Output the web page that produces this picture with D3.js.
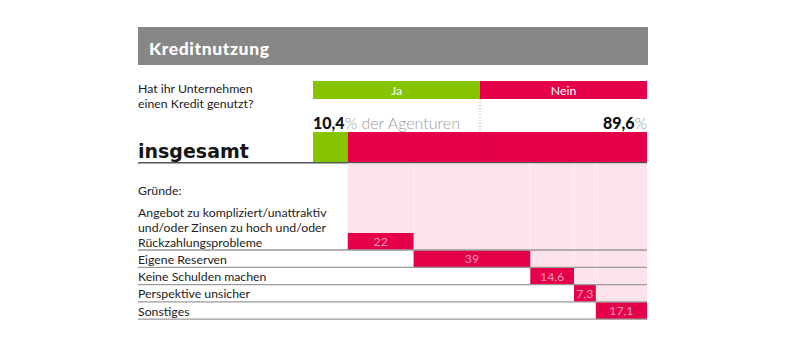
<!DOCTYPE html>
<html><head><meta charset="utf-8">
<script src="https://cdn.jsdelivr.net/npm/d3@7"></script>
<style>body{margin:0;background:#fff}svg{display:block}text{font-family:Lato,"Open Sans",sans-serif}</style>
</head><body>
<script>
const title = "Kreditnutzung";
const question = ["Hat ihr Unternehmen", "einen Kredit genutzt?"];
const answerLabels = ["Ja", "Nein"];
const answerValues = [10.4, 89.6];
const answerValueLabels = ["10,4", "89,6"];
const reasonLabels = [
  ["Angebot zu kompliziert/unattraktiv", "und/oder Zinsen zu hoch und/oder", "Rückzahlungsprobleme"],
  ["Eigene Reserven"],
  ["Keine Schulden machen"],
  ["Perspektive unsicher"],
  ["Sonstiges"]
];
const reasonValues = [22, 39, 14.6, 7.3, 17.1];
const reasonValueLabels = ["22", "39", "14,6", "7,3", "17,1"];

const W = 789, H = 355;
const RED = "#e5004a", GREEN = "#86c400", PINK = "#fce4ea", GREY = "#878787";
const FS = 12.3;
const svg = d3.select("body").append("svg").attr("width", W).attr("height", H);

const L = 138, R = 647;
const x = d3.scaleLinear().domain([0, 100]).range([313, R]);

// title bar
svg.append("rect").attr("x", L).attr("y", 27).attr("width", R - L + 1).attr("height", 38).attr("fill", GREY);
svg.append("text").attr("x", 149).attr("y", 55).attr("fill", "#fff").attr("font-size", 17.5)
  .attr("font-weight", 900).attr("letter-spacing", 0.6).text(title);

// question
svg.selectAll("text.q").data(question).join("text").attr("class", "q")
  .attr("x", L).attr("y", (d, i) => 93 + i * 15).attr("font-size", FS).attr("fill", "#222").text(d => d);

// cumulative answers
const cumA = d3.cumsum(answerValues);
const startsA = Array.from(cumA, (c, i) => c - answerValues[i]);
const colA = [GREEN, RED];

// Ja/Nein legend bar (50/50)
const legend = answerLabels.map((l, i) => ({l, s: i * 50, e: (i + 1) * 50, c: colA[i]}));
svg.selectAll("rect.lg").data(legend).join("rect").attr("class", "lg")
  .attr("x", d => x(d.s)).attr("y", 81).attr("width", d => x(d.e) - x(d.s)).attr("height", 18).attr("fill", d => d.c);
svg.selectAll("text.lg").data(legend).join("text").attr("class", "lg")
  .attr("x", d => (x(d.s) + x(d.e)) / 2).attr("y", 94.5).attr("text-anchor", "middle")
  .attr("fill", "#fff").attr("font-size", FS).text(d => d.l);

// dotted midline
svg.append("line").attr("x1", x(50)).attr("x2", x(50)).attr("y1", 99).attr("y2", 162)
  .attr("stroke", "#999").attr("stroke-width", 1).attr("stroke-dasharray", "1,2");

// value labels
const t1 = svg.append("text").attr("x", x(0)).attr("y", 129).attr("font-size", 16);
t1.append("tspan").attr("font-weight", 900).attr("fill", "#111").text(answerValueLabels[0]);
t1.append("tspan").attr("fill", "#999").attr("font-weight", 300).text("% der Agenturen");
const t2 = svg.append("text").attr("x", x(100)).attr("y", 129).attr("font-size", 16).attr("text-anchor", "end");
t2.append("tspan").attr("font-weight", 900).attr("fill", "#111").text(answerValueLabels[1]);
t2.append("tspan").attr("fill", "#999").attr("font-weight", 300).text("%");

// insgesamt bar
svg.selectAll("rect.tot").data(answerValues).join("rect").attr("class", "tot")
  .attr("x", (d, i) => x(startsA[i])).attr("y", 132).attr("width", (d, i) => x(cumA[i]) - x(startsA[i]))
  .attr("height", 30).attr("fill", (d, i) => colA[i]);
svg.append("line").attr("x1", x(50)).attr("x2", x(50)).attr("y1", 132).attr("y2", 162)
  .attr("stroke", "#a0002f").attr("stroke-width", 0.8).attr("stroke-dasharray", "1,2");
svg.append("text").attr("x", L).attr("y", 158).attr("font-size", 19).attr("font-weight", 700)
  .style("font-family", "'DejaVu Sans', sans-serif").attr("fill", "#151515").text("insgesamt");
svg.append("line").attr("x1", L).attr("x2", R).attr("y1", 162.8).attr("y2", 162.8).attr("stroke", "#555").attr("stroke-width", 1.5);

// reasons
const xr = d3.scaleLinear().domain([0, 100]).range([x(answerValues[0]), R]);
const cumR = d3.cumsum(reasonValues);
const startsR = Array.from(cumR, (c, i) => c - reasonValues[i]);
const rowBottom = i => 250 + i * 17.3;
const barH = 17;

// pink columns
svg.selectAll("rect.col").data(reasonValues).join("rect").attr("class", "col")
  .attr("x", (d, i) => xr(startsR[i])).attr("y", 163.5)
  .attr("width", (d, i) => xr(cumR[i]) - xr(startsR[i]))
  .attr("height", (d, i) => rowBottom(i) - barH - 163.5).attr("fill", PINK);
svg.selectAll("line.col").data(reasonValues.slice(1)).join("line").attr("class", "col")
  .attr("x1", (d, i) => xr(startsR[i + 1])).attr("x2", (d, i) => xr(startsR[i + 1]))
  .attr("y1", 163.5).attr("y2", (d, i) => rowBottom(i + 1) - barH)
  .attr("stroke", "#fdf1f4").attr("stroke-width", 1);

// bars
svg.selectAll("rect.rb").data(reasonValues).join("rect").attr("class", "rb")
  .attr("x", (d, i) => xr(startsR[i])).attr("y", (d, i) => rowBottom(i) - barH)
  .attr("width", (d, i) => xr(cumR[i]) - xr(startsR[i])).attr("height", barH).attr("fill", RED);
svg.selectAll("text.rb").data(reasonValueLabels).join("text").attr("class", "rb")
  .attr("x", (d, i) => (xr(startsR[i]) + xr(cumR[i])) / 2).attr("y", (d, i) => rowBottom(i) - 4)
  .attr("text-anchor", "middle").attr("font-size", FS).attr("fill", "#f59ab6").text(d => d);

// row lines
svg.selectAll("line.row").data(reasonValues).join("line").attr("class", "row")
  .attr("x1", L).attr("x2", R).attr("y1", (d, i) => rowBottom(i)).attr("y2", (d, i) => rowBottom(i))
  .attr("stroke", "#9a9a9a").attr("stroke-width", 1.3);

// labels
svg.append("text").attr("x", L).attr("y", 195).attr("font-size", FS).attr("fill", "#222").text("Gründe:");
reasonLabels.forEach((lines, i) => {
  const n = lines.length;
  lines.forEach((s, j) => {
    svg.append("text").attr("x", L).attr("y", rowBottom(i) - 3.5 - (n - 1 - j) * 15)
      .attr("font-size", FS).attr("fill", "#222").text(s);
  });
});
</script>
</body></html>
